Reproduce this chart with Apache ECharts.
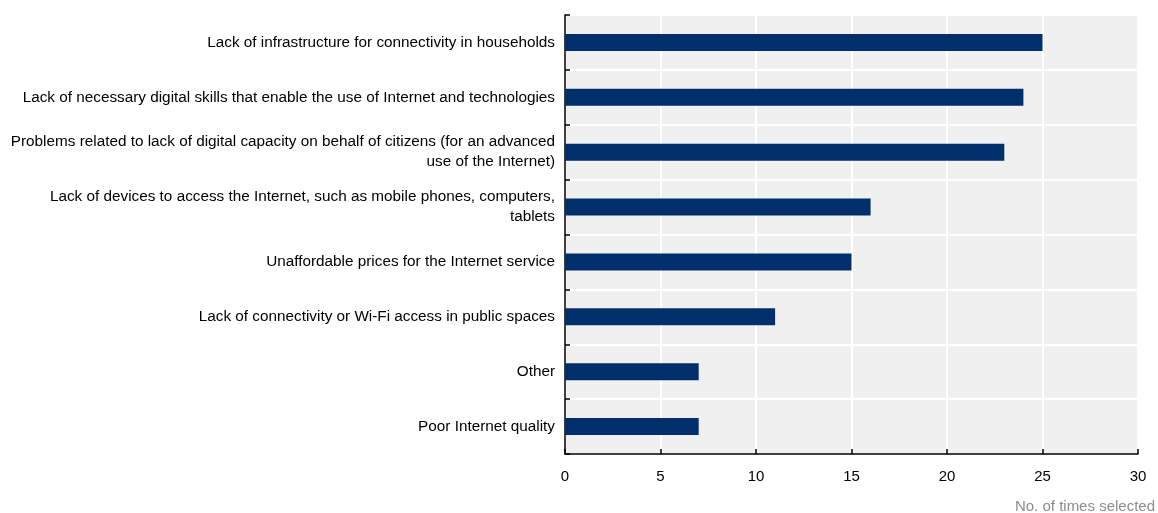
<!DOCTYPE html>
<html><head><meta charset="utf-8">
<script src="https://cdn.jsdelivr.net/npm/echarts@6/dist/echarts.min.js"></script>
<style>html,body{margin:0;padding:0;background:#fff}#c{width:1158px;height:513px}</style>
</head><body><div id="c"></div>
<script>
const categories = [
  "Lack of infrastructure for connectivity in households",
  "Lack of necessary digital skills that enable the use of Internet and technologies",
  "Problems related to lack of digital capacity on behalf of citizens (for an advanced\nuse of the Internet)",
  "Lack of devices to access the Internet, such as mobile phones, computers,\ntablets",
  "Unaffordable prices for the Internet service",
  "Lack of connectivity or Wi-Fi access in public spaces",
  "Other",
  "Poor Internet quality"
];
const values = [25, 24, 23, 16, 15, 11, 7, 7];
const xTicks = { min: 0, max: 30, interval: 5 };
const axisTitle = "No. of times selected";

const chart = echarts.init(document.getElementById('c'));
chart.setOption({
  animation: false,
  textStyle: { fontFamily: 'Liberation Sans, Arial, sans-serif' },
  grid: { left: 565, right: 20, top: 15, bottom: 59, show: true, backgroundColor: '#f0f0f0', borderWidth: 0 },
  title: { text: axisTitle, right: 3, top: 499, padding: 0, textStyle: { fontSize: 15, fontWeight: 'normal', color: '#8c8c8c', fontFamily: 'Liberation Sans, Arial, sans-serif' } },
  xAxis: {
    type: 'value', min: xTicks.min, max: xTicks.max, interval: xTicks.interval,
    axisLine: { show: true, lineStyle: { color: '#000', width: 1.5 } },
    axisTick: { show: true, inside: true, length: 5, lineStyle: { color: '#000', width: 1.5 } },
    axisLabel: { color: '#000', fontSize: 15, margin: 15 },
    splitLine: { show: true, lineStyle: { color: '#fff', width: 2 } }
  },
  yAxis: {
    type: 'category', data: categories, inverse: true,
    axisLine: { show: true, lineStyle: { color: '#000', width: 1.5 } },
    axisTick: { show: true, inside: true, length: 5, alignWithLabel: false, lineStyle: { color: '#000', width: 1.5 } },
    axisLabel: { color: '#000', fontSize: 15.3, margin: 10, lineHeight: 20, align: 'right' },
    splitLine: { show: true, lineStyle: { color: '#fff', width: 2 } }
  },
  series: [{
    type: 'bar', data: values, barWidth: 17,
    itemStyle: { color: '#002f6c' }
  }]
});
</script></body></html>
